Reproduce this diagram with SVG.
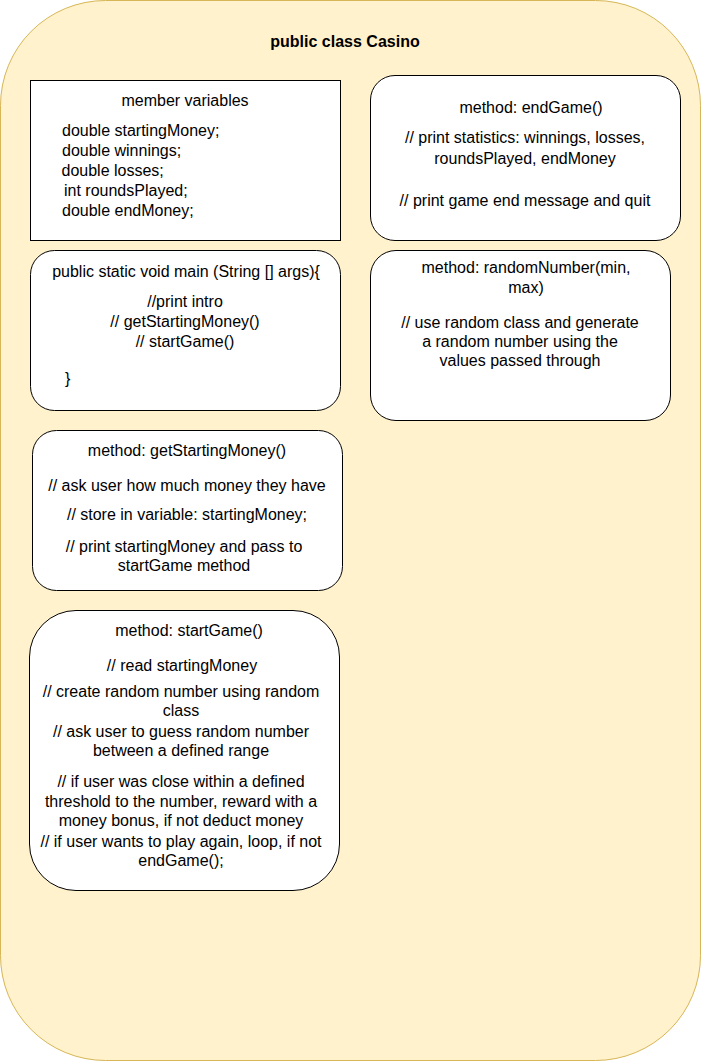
<svg xmlns="http://www.w3.org/2000/svg" width="701" height="1061" viewBox="0 0 701 1061">
<style>
text{font-family:"Liberation Sans",Arial,sans-serif;font-size:16px;fill:#000}
.c{text-anchor:middle}
.t{font-weight:bold}
.box{fill:#fff;stroke:#000;stroke-width:1}
</style>
<g id="casino">
<rect x="0.5" y="0.5" width="700" height="1060" rx="105" ry="105" fill="#fff2cc" stroke="#d6b656"/>
<text class="c t" x="345" y="47">public class Casino</text>
</g>
<g id="members">
<rect class="box" x="30.5" y="80.5" width="310" height="160"/>
<text class="c" x="185" y="106">member variables</text>
<text x="62" y="136">double startingMoney;</text>
<text x="62" y="156">double winnings;</text>
<text x="61.5" y="176">double losses;</text>
<text x="64" y="196">int roundsPlayed;</text>
<text x="62" y="216">double endMoney;</text>
</g>
<g id="endGame">
<rect class="box" x="370.5" y="75.5" width="310" height="165" rx="24.5" ry="24.5"/>
<text class="c" x="531" y="113">method: endGame()</text>
<text class="c" x="525" y="143">// print statistics: winnings, losses,</text>
<text class="c" x="525" y="164">roundsPlayed, endMoney</text>
<text class="c" x="525" y="206">// print game end message and quit</text>
</g>
<g id="main">
<rect class="box" x="30.5" y="250.5" width="310" height="160" rx="24" ry="24"/>
<text class="c" x="186" y="277">public static void main (String [] args){</text>
<text class="c" x="185" y="307">//print intro</text>
<text class="c" x="185" y="327">// getStartingMoney()</text>
<text class="c" x="185" y="347">// startGame()</text>
<text x="65" y="384">}</text>
</g>
<g id="randomNumber">
<rect class="box" x="370.5" y="250.5" width="300" height="170" rx="25.5" ry="25.5"/>
<text class="c" x="526" y="273">method: randomNumber(min,</text>
<text class="c" x="526" y="293">max)</text>
<text class="c" x="520" y="328">// use random class and generate</text>
<text class="c" x="520" y="347">a random number using the</text>
<text class="c" x="520" y="366">values passed through</text>
</g>
<g id="getStartingMoney">
<rect class="box" x="32.5" y="430.5" width="310" height="160" rx="24" ry="24"/>
<text class="c" x="187" y="456">method: getStartingMoney()</text>
<text class="c" x="187" y="491">// ask user how much money they have</text>
<text class="c" x="187" y="520">// store in variable: startingMoney;</text>
<text class="c" x="184" y="552">// print startingMoney and pass to</text>
<text class="c" x="184" y="571">startGame method</text>
</g>
<g id="startGame">
<rect class="box" x="29.5" y="610.5" width="310" height="280" rx="46.5" ry="46.5"/>
<text class="c" x="189" y="636">method: startGame()</text>
<text class="c" x="182" y="671">// read startingMoney</text>
<text class="c" x="181" y="697">// create random number using random</text>
<text class="c" x="181" y="716">class</text>
<text class="c" x="181" y="737">// ask user to guess random number</text>
<text class="c" x="181" y="756">between a defined range</text>
<text class="c" x="181" y="787">// if user was close within a defined</text>
<text class="c" x="181" y="807">threshold to the number, reward with a</text>
<text class="c" x="181" y="826">money bonus, if not deduct money</text>
<text class="c" x="181" y="847">// if user wants to play again, loop, if not</text>
<text class="c" x="181" y="866">endGame();</text>
</g>
<g id="connectors"></g>
</svg>
